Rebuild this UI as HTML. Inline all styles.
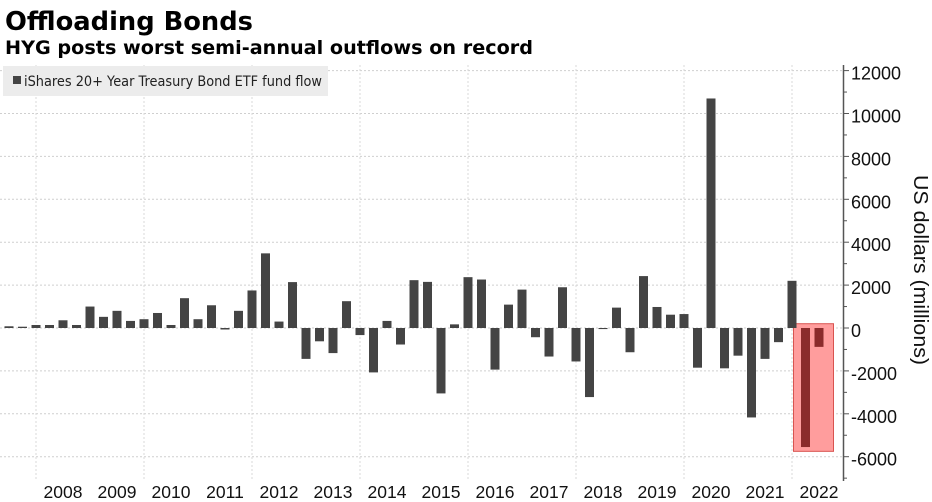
<!DOCTYPE html>
<html><head><meta charset="utf-8"><style>
html,body{margin:0;padding:0;background:#fff;}
svg{display:block;font-family:"DejaVu Sans","Liberation Sans",sans-serif;}
.lib{font-family:"Liberation Sans",sans-serif;}
</style></head><body>
<svg id="chart" width="932" height="502" viewBox="0 0 932 502">
<text x="5" y="30" font-size="26" font-weight="bold" fill="#000" textLength="248" lengthAdjust="spacingAndGlyphs">Offloading Bonds</text>
<text x="5" y="54" font-size="19" font-weight="bold" fill="#000" textLength="528" lengthAdjust="spacingAndGlyphs">HYG posts worst semi-annual outflows on record</text>
<g id="grid"></g>
<g id="highlight"></g>
<g id="bars"></g>
<g id="axis"></g>
<g id="xlabels"></g>
<rect x="3" y="66" width="325" height="30" fill="#ececec"/>
<rect x="13" y="76" width="8" height="8" fill="#444"/>
<text x="24" y="86" font-size="14" fill="#222" textLength="298" lengthAdjust="spacingAndGlyphs">iShares 20+ Year Treasury Bond ETF fund flow</text>
<text class="lib" transform="translate(914,270) rotate(90)" text-anchor="middle" font-size="20" fill="#111" textLength="190" lengthAdjust="spacingAndGlyphs">US dollars (millions)</text>
</svg>
<script>
const quarters = ["2007Q2","2007Q3","2007Q4"];
for (let y = 2008; y <= 2021; y++) for (let q = 1; q <= 4; q++) quarters.push(y + "Q" + q);
quarters.push("2022Q1","2022Q2");
const flows = [80,60,140,140,360,140,1000,520,800,330,410,700,140,1390,410,1060,-70,800,1750,3480,300,2140,
-1440,-620,-1170,1250,-330,-2070,330,-770,2230,2150,-3050,170,2370,2260,-1940,1090,1790,-430,-1330,1900,-1560,-3220,
-50,950,-1130,2420,980,620,650,-1850,10700,-1880,-1290,-4170,-1440,-660,2200,-5550,-880];
const yTicks = [12000,10000,8000,6000,4000,2000,0,-2000,-4000,-6000];
const yearLabels = [2008,2009,2010,2011,2012,2013,2014,2015,2016,2017,2018,2019,2020,2021,2022];
const highlightRange = [-5750, 200];

const NS = "http://www.w3.org/2000/svg";
const zeroY = 328, pxPer = 21.45, x0 = 9, step = 13.5, yearStart = 36, yearW = 54;
const yS = v => zeroY - v * pxPer / 1000;
const xQ = i => x0 + i * step;
const xYear = y => yearStart + (y - 2008) * yearW;
function mk(tag, attrs, parent) {
  const e = document.createElementNS(NS, tag);
  for (const k in attrs) e.setAttribute(k, attrs[k]);
  parent.appendChild(e); return e;
}
const grid = document.getElementById('grid');
yTicks.forEach(t => {
  const l = mk('line', {x1: 0, x2: 843, y1: yS(t), y2: yS(t), stroke: '#cfcfcf', 'stroke-width': 1, 'stroke-dasharray': '2,2'}, grid);
  
  
});
for (let y = 2008; y <= 2022; y += 2) {
  const l = mk('line', {x1: xYear(y), x2: xYear(y), y1: 65, y2: 481, stroke: '#d8d8d8', 'stroke-width': 1, 'stroke-dasharray': '2,2'}, grid);
  
  
}
const hl = document.getElementById('highlight');
const hr = mk('rect', {x: xQ(59) - 12, y: yS(highlightRange[1]), width: 40, height: yS(highlightRange[0]) - yS(highlightRange[1]), fill: '#ff9d9d', stroke: '#d9534f', 'stroke-width': 1}, hl);


const bars = document.getElementById('bars');
flows.forEach((v, i) => {
  const y1 = yS(Math.max(v, 0)), y2 = yS(Math.min(v, 0));
  const r = mk('rect', {x: xQ(i) - 4.5, y: y1, width: 9, height: Math.max(y2 - y1, 1), fill: i >= 59 ? '#8b2b2b' : '#444'}, bars);
  
  
});
const ax = document.getElementById('axis');
mk('line', {x1: 843.5, x2: 843.5, y1: 65, y2: 481, stroke: '#555', 'stroke-width': 1.5}, ax);
for (let v = 12000; v >= -7000; v -= 1000) {
  if (yS(v) > 481) break;
  mk('line', {x1: 843, x2: v % 2000 === 0 ? 849 : 847, y1: yS(v), y2: yS(v), stroke: '#555', 'stroke-width': 1}, ax);
}
yTicks.forEach(t => {
  const tx = mk('text', {x: 851, y: yS(t) + 9, 'font-size': 18, fill: '#111', 'class': 'lib'}, ax);
  tx.textContent = (t < 0 ? '-' : '') + Math.abs(t);
  
  
});
const xl = document.getElementById('xlabels');
yearLabels.forEach(y => {
  const tx = mk('text', {x: xYear(y) + 27, y: 498, 'font-size': 17.5, fill: '#111', 'text-anchor': 'middle', 'class': 'lib'}, xl);
  tx.textContent = y;
  
  
});
</script>
</body></html>
